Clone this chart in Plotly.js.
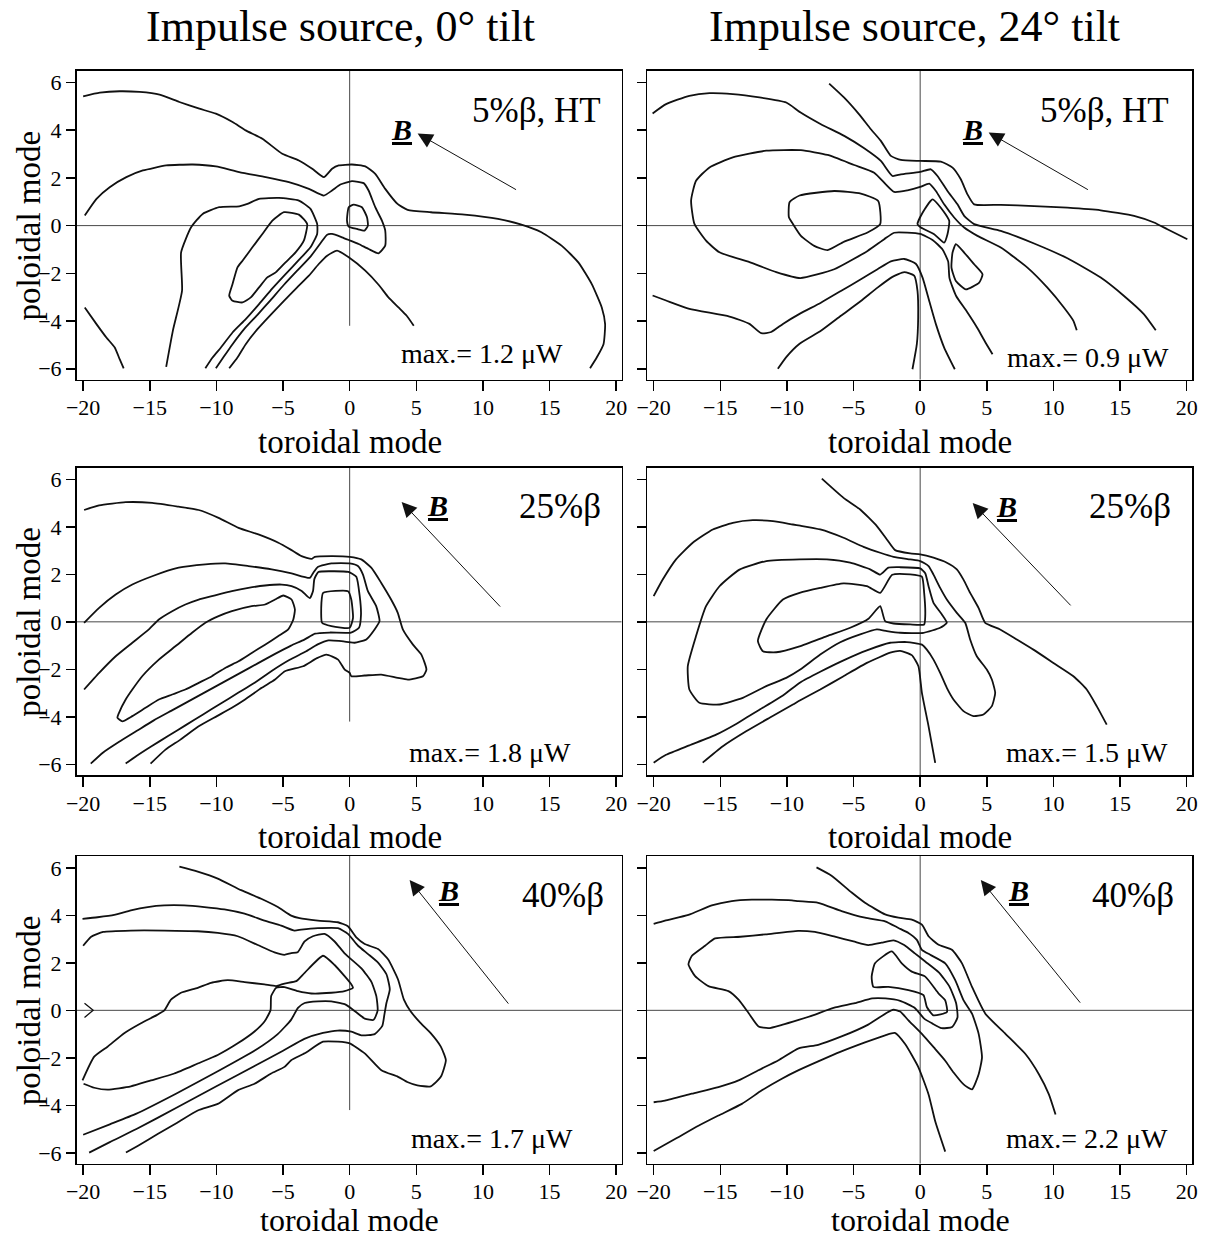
<!DOCTYPE html>
<html>
<head>
<meta charset="utf-8">
<script src="https://cdn.plot.ly/plotly-3.0.1.min.js"></script>
<style>
  html, body { margin: 0; padding: 0; background: #fff; }
  #chart { width: 1207px; height: 1237px; }
</style>
</head>
<body>
<div id="chart"></div>
<script>
// ---- axis ticks and labels ----
const toroidalTicks = [-20, -15, -10, -5, 0, 5, 10, 15, 20];
const poloidalTicks = [-6, -4, -2, 0, 2, 4, 6];
const columnTitles = ['Impulse source, 0° tilt', 'Impulse source, 24° tilt'];
const betaLabels = ['5%β, HT', '5%β, HT', '25%β', '25%β', '40%β', '40%β'];
const maxPower = [1.2, 0.9, 1.8, 1.5, 1.7, 2.2]; // μW, one per panel

// field direction arrow (head, tail) in (toroidal, poloidal) mode units
const fieldArrowHead = [[5.1, 3.86], [5.14, 3.9], [3.9, 5.05], [3.94, 5.0], [4.5, 5.49], [4.55, 5.49]];
const fieldArrowTail = [[12.6, 1.47], [12.7, 1.47], [11.4, 0.58], [11.4, 0.63], [12.0, 0.22], [12.1, 0.26]];

// lower end of the n = 0 guide line in each panel
const guideBottom = [-4.2, -7, -4.2, -7, -4.2, -7];

// small chevron on the m = 0 line, 40% beta, 0 deg tilt
const edgeChevron = [[-19.9, 0.3], [-19.25, 0], [-19.9, -0.3]];

// ---- contour lines: 5% beta HT, 0 deg tilt ----
const c5t0_a = [[-20.0,5.42],[-18.75,5.57],[-17.26,5.63],[-15.77,5.6],[-14.27,5.49],[-12.78,5.18],[-11.28,4.9],[-10.04,4.69],[-8.79,4.34],[-7.8,3.99],[-6.55,3.64],[-5.06,3.01],[-3.81,2.73],[-2.81,2.38],[-1.94,2.03],[-1.32,2.38],[-0.82,2.52],[0.17,2.56],[1.17,2.48],[1.92,2.17],[2.67,1.54],[3.59,0.91],[4.35,0.66],[6.1,0.56],[8.62,0.46],[11.13,0.28],[12.89,0.04],[14.39,-0.28],[15.9,-0.84],[17.16,-1.54],[18.17,-2.45],[18.92,-3.43],[19.17,-4.13],[19.05,-4.97],[18.54,-5.53],[18.04,-5.98]];
const c5t0_b = [[-19.88,0.42],[-19.0,1.12],[-18.01,1.61],[-16.76,2.03],[-15.52,2.31],[-13.77,2.52],[-11.78,2.56],[-10.04,2.48],[-8.29,2.24],[-6.3,2.03],[-4.56,1.82],[-3.06,1.54],[-1.94,1.26],[-1.32,1.47],[-0.7,1.72],[0.17,1.86],[1.05,1.78],[1.42,1.47],[1.92,0.77],[2.42,0.21],[2.67,-0.21],[2.67,-0.84],[2.17,-1.16],[1.42,-0.98],[0.67,-0.77],[0.05,-0.63],[-0.57,-0.49],[-1.32,-0.35],[-1.69,-0.38],[-2.19,-0.74],[-2.94,-1.3],[-3.94,-1.89],[-4.93,-2.48],[-5.93,-3.12],[-6.92,-3.74],[-7.92,-4.34],[-8.79,-4.97],[-9.49,-5.53],[-10.04,-5.98]];
const c5t0_c = [[-9.04,-5.98],[-8.42,-5.53],[-7.8,-4.97],[-6.92,-4.34],[-5.93,-3.74],[-4.93,-3.15],[-3.94,-2.59],[-3.06,-2.1],[-2.32,-1.61],[-1.69,-1.26],[-0.95,-1.05],[-0.07,-1.33],[1.17,-1.89],[2.17,-2.48],[2.91,-3.01],[3.66,-3.43],[4.28,-3.78],[4.81,-4.2]];
const c5t0_d = [[-13.77,-5.92],[-13.27,-4.41],[-12.58,-2.73],[-12.65,-1.12],[-11.9,-0.07],[-11.03,0.49],[-9.79,0.77],[-8.29,0.81],[-7.67,0.91],[-6.8,1.12],[-5.31,1.16],[-3.81,1.05],[-2.94,0.7],[-2.44,0.07],[-2.44,-0.35],[-2.94,-0.91],[-3.81,-1.44],[-4.81,-2.03],[-5.8,-2.63],[-6.8,-3.29],[-7.8,-3.92],[-8.79,-4.48],[-9.66,-5.11],[-10.29,-5.53],[-10.83,-5.98]];
const c5t0_e = [[-4.93,0.56],[-3.81,0.46],[-3.19,0.07],[-3.44,-0.63],[-4.06,-1.12],[-4.81,-1.54],[-5.55,-1.96],[-6.18,-2.17],[-6.8,-2.59],[-7.42,-3.01],[-8.04,-3.22],[-8.79,-3.15],[-9.04,-2.94],[-8.79,-2.45],[-8.42,-1.75],[-8.04,-1.47],[-7.3,-0.91],[-6.55,-0.35],[-5.8,0.21],[-4.93,0.56]];
const c5t0_f = [[-0.07,0.77],[0.3,0.88],[0.92,0.77],[1.3,0.35],[1.37,0.0],[1.12,-0.21],[0.55,-0.14],[-0.07,-0.04],[-0.2,0.21],[-0.07,0.77]];
const c5t0_g = [[-19.88,-3.43],[-19.0,-4.13],[-18.26,-4.69],[-17.63,-5.11],[-17.26,-5.6],[-16.96,-5.98]];

// ---- contour lines: 5% beta HT, 24 deg tilt ----
const c5t24_a = [[-6.83,5.95],[-5.7,5.36],[-4.58,4.66],[-3.7,4.04],[-2.95,3.55],[-2.2,2.92],[-1.45,2.75],[0,2.71],[1.55,2.68],[2.43,2.43],[3.05,1.94],[3.55,1.31],[4.05,0.89],[6.05,0.87],[8.55,0.82],[11.05,0.75],[13.55,0.64],[16.05,0.41],[17.55,0.13],[18.55,-0.15],[20.05,-0.57]];
const c5t24_b = [[-20.08,4.7],[-19.07,5.09],[-17.32,5.44],[-15.81,5.55],[-14.06,5.51],[-12.06,5.37],[-10.05,5.16],[-9.0,4.75],[-7.45,4.25],[-5.7,3.76],[-4.2,3.24],[-2.95,2.71],[-2.08,2.08],[-1.45,2.15],[0,2.25],[0.8,2.36],[1.3,2.08],[2.05,1.45],[2.8,0.89],[3.3,0.41],[4.05,0.06],[6.05,-0.22],[8.55,-0.75],[11.05,-1.37],[13.55,-2.18],[15.3,-2.95],[16.8,-3.72],[17.68,-4.39]];
const c5t24_c = [[11.75,-4.39],[11.5,-3.99],[10.8,-3.44],[9.55,-2.6],[8.05,-1.76],[6.05,-0.92],[4.3,-0.43],[3.3,-0.08],[2.55,0.34],[1.8,0.89],[1.18,1.45],[0.68,1.76],[0,1.62],[-0.95,1.48],[-1.95,1.41],[-2.58,1.73],[-3.45,2.22],[-4.95,2.54],[-6.95,2.96],[-8.95,3.16],[-11.55,3.14],[-14.06,2.86],[-15.81,2.44],[-16.82,1.88],[-17.19,1.05],[-16.94,0.07],[-16.07,-0.63],[-15.06,-1.12],[-12.81,-1.53],[-10.8,-1.95],[-9.0,-2.2],[-6.45,-1.83],[-3.95,-1.06],[-2.7,-0.57],[-1.95,-0.3],[0,-0.35],[0.93,-0.6],[1.68,-1.0],[2.1,-1.5],[2.2,-2.2],[2.7,-2.95],[3.5,-3.6],[4.3,-4.3],[4.9,-4.9],[5.43,-5.39]];
const c5t24_d = [[-20.08,-2.93],[-19.07,-3.14],[-17.32,-3.49],[-14.31,-3.81],[-12.81,-4.12],[-11.93,-4.51],[-11.18,-4.46],[-10.3,-4.12],[-9.05,-3.7],[-7.45,-3.23],[-5.95,-2.74],[-4.45,-2.25],[-3.2,-1.83],[-2.2,-1.5],[-1.2,-1.4],[-0.33,-1.6],[0.18,-2.18],[0.68,-3.16],[1.18,-4.13],[1.8,-5.11],[2.6,-6.02]];
const c5t24_e = [[-10.68,-6.0],[-10.05,-5.51],[-9.05,-4.95],[-7.45,-4.41],[-5.95,-3.78],[-4.45,-3.16],[-3.2,-2.6],[-2.08,-2.15],[-1.2,-1.95],[-0.45,-2.1],[-0.2,-2.74],[-0.15,-3.85],[-0.25,-4.97],[-0.58,-6.02]];
const c5t24_f = [[-9.8,0.98],[-9.05,1.26],[-6.45,1.45],[-4.45,1.34],[-3.15,1.03],[-3.0,0.06],[-3.95,-0.29],[-5.7,-0.67],[-6.95,-1.03],[-7.95,-0.85],[-8.95,-0.43],[-9.55,0.07],[-9.85,0.35],[-9.8,0.98]];
const c5t24_g = [[-0.2,0.06],[0.18,0.54],[0.93,1.1],[1.55,0.75],[2.18,0.2],[2.05,-0.36],[1.8,-0.71],[1.05,-0.36],[0.05,-0.08],[-0.2,0.06]];
const c5t24_h = [[2.68,-0.78],[3.3,-1.13],[4.05,-1.62],[4.68,-2.04],[4.43,-2.39],[3.43,-2.67],[2.68,-2.32],[2.35,-1.76],[2.43,-1.13],[2.68,-0.78]];

// ---- contour lines: 25% beta, 0 deg tilt ----
const c25t0_a = [[-19.93,4.71],[-18.8,4.9],[-16.81,5.04],[-14.82,5.01],[-12.83,4.85],[-11.33,4.71],[-9.84,4.38],[-8.34,3.96],[-6.85,3.68],[-5.35,3.33],[-4.36,3.02],[-3.61,2.77],[-2.86,2.65],[-2.62,2.74],[-1.37,2.77],[0,2.74],[0.87,2.63],[1.62,2.28],[2.37,1.64],[3.11,0.94],[3.61,0.38],[3.99,-0.32],[4.75,-0.96],[5.38,-1.38],[5.76,-2.01],[5.5,-2.29],[4.37,-2.43],[3.61,-2.36],[2.37,-2.22],[1.12,-2.26],[0.12,-2.29],[0,-2.15],[-0.37,-2.01],[-0.87,-1.59],[-1.74,-1.38],[-2.49,-1.54],[-3.49,-1.87],[-4.86,-2.08],[-5.6,-2.43],[-6.6,-2.78],[-7.85,-3.27],[-8.84,-3.62],[-9.96,-3.97],[-11.33,-4.4],[-12.7,-4.96],[-13.82,-5.38],[-14.94,-5.97]];
const c25t0_b = [[-19.93,-0.04],[-18.8,0.59],[-17.56,1.15],[-16.31,1.57],[-14.82,1.92],[-12.83,2.28],[-10.83,2.42],[-9.34,2.46],[-7.6,2.35],[-5.85,2.21],[-4.36,2.04],[-2.99,1.85],[-2.74,2.06],[-2.37,2.32],[-1.37,2.46],[0,2.46],[0.62,2.35],[1.0,1.99],[1.37,1.29],[1.99,0.66],[2.24,0.03],[1.87,-0.32],[1.25,-0.74],[0.37,-0.88],[0,-0.86],[-0.8,-0.8],[-1.6,-0.78],[-2.4,-0.95],[-3.3,-1.25],[-4.5,-1.6],[-5.8,-2.05],[-7.1,-2.55],[-8.4,-3.0],[-9.7,-3.45],[-11.0,-3.9],[-12.3,-4.35],[-13.6,-4.8],[-14.9,-5.25],[-16.0,-5.65],[-16.81,-5.97]];
const c25t0_c = [[-19.93,-2.85],[-18.8,-2.15],[-17.56,-1.45],[-16.31,-0.88],[-15.07,-0.32],[-14.32,0.1],[-13.32,0.45],[-12.33,0.73],[-11.33,0.94],[-10.34,1.08],[-8.84,1.29],[-7.6,1.43],[-6.35,1.53],[-5.1,1.57],[-4.36,1.5],[-3.6,1.3],[-3.0,1.0],[-2.75,1.3],[-2.65,1.8],[-2.35,2.1],[-1.4,2.13],[-0.1,2.1],[0.5,1.9],[0.75,1.1],[0.85,0.3],[0.7,-0.25],[0.1,-0.45],[-1.5,-0.45],[-2.6,-0.5],[-3.4,-0.75],[-4.4,-1.0],[-5.6,-1.35],[-6.9,-1.75],[-8.2,-2.15],[-9.5,-2.55],[-10.8,-2.95],[-12.1,-3.35],[-13.4,-3.75],[-14.7,-4.15],[-16.0,-4.6],[-17.3,-5.05],[-18.5,-5.5],[-19.43,-5.97]];
const c25t0_d = [[-17.43,-4.04],[-17.31,-3.83],[-16.81,-3.27],[-16.31,-2.85],[-15.57,-2.29],[-14.32,-1.59],[-13.08,-1.03],[-11.83,-0.46],[-10.83,-0.04],[-9.84,0.24],[-8.84,0.45],[-7.35,0.66],[-6.35,0.73],[-5.6,0.94],[-4.98,1.11],[-4.36,0.94],[-4.11,0.52],[-4.23,0.1],[-4.61,-0.32],[-5.35,-0.6],[-6.35,-0.96],[-7.35,-1.31],[-8.34,-1.66],[-9.34,-1.94],[-10.34,-2.29],[-11.33,-2.57],[-12.33,-2.85],[-13.32,-3.06],[-14.32,-3.27],[-15.32,-3.62],[-16.31,-3.97],[-17.06,-4.19],[-17.43,-4.04]];
const c25t0_e = [[-1.99,1.22],[-0.12,1.29],[0.12,0.94],[0.25,0.17],[0,-0.25],[-1.37,-0.18],[-2.07,-0.04],[-2.12,0.8],[-1.99,1.22]];

// ---- contour lines: 25% beta, 24 deg tilt ----
const c25t24_a = [[-7.38,6.03],[-5.75,5.22],[-4.5,4.73],[-3.25,4.03],[-2.5,3.47],[-1.88,3.02],[-0.75,2.88],[0,2.84],[1.0,2.7],[2.0,2.49],[2.75,2.21],[3.25,1.78],[3.75,1.22],[4.38,0.59],[4.88,-0.04],[6.0,-0.32],[7.25,-0.74],[8.5,-1.17],[10.0,-1.73],[11.5,-2.29],[12.5,-2.85],[13.25,-3.55],[14.0,-4.33]];
const c25t24_b = [[-20.0,1.08],[-19.32,1.78],[-18.32,2.63],[-17.07,3.33],[-15.56,3.89],[-14.06,4.17],[-12.56,4.28],[-11.05,4.24],[-9.55,4.1],[-9.0,4.05],[-7.5,3.89],[-5.75,3.54],[-4.25,3.16],[-3.0,2.91],[-2.0,2.74],[-0.75,2.63],[0,2.56],[0.63,2.35],[1.0,1.99],[1.5,1.43],[2.0,0.94],[2.75,0.38],[3.38,-0.04],[3.75,-0.74],[4.25,-1.45],[5.0,-2.01],[5.38,-2.43],[5.63,-2.99],[5.38,-3.55],[4.75,-3.9],[4.0,-3.97],[3.25,-3.76],[2.5,-3.27],[2.0,-2.78],[1.5,-2.15],[1.0,-1.59],[0.5,-1.17],[0.13,-0.96],[-1.0,-0.85],[-2.25,-0.88],[-4.0,-1.2],[-5.75,-1.62],[-7.5,-2.1],[-9.0,-2.55],[-10.3,-3.1],[-12.06,-3.7],[-13.81,-4.3],[-15.31,-4.75],[-17.32,-5.2],[-19.07,-5.6],[-20.0,-5.93]];
const c25t24_c = [[-9.05,2.63],[-11.55,2.56],[-13.56,2.2],[-15.06,1.5],[-16.07,0.66],[-16.82,-0.6],[-17.44,-1.87],[-17.32,-2.85],[-16.57,-3.41],[-15.06,-3.48],[-13.31,-3.2],[-11.55,-2.71],[-10.05,-2.36],[-9.0,-2.01],[-7.5,-1.38],[-6.0,-0.86],[-4.5,-0.53],[-3.25,-0.32],[-2.5,-0.39],[-1.5,-0.46],[0.25,-0.46],[1.5,-0.25],[2.0,-0.04],[1.63,0.31],[1.0,0.8],[0.63,1.5],[0.38,2.05],[0,2.25],[-1.5,2.3],[-2.38,2.28],[-3.0,1.99],[-3.75,2.21],[-5.25,2.49],[-7.0,2.63],[-9.05,2.63]];
const c25t24_d = [[-9.05,1.22],[-10.3,0.94],[-11.55,0.1],[-12.18,-0.81],[-11.8,-1.24],[-10.8,-1.28],[-9.05,-1.03],[-7.0,-0.6],[-5.25,-0.25],[-3.88,0.13],[-3.0,0.66],[-2.63,0.03],[-2.0,-0.07],[-0.75,-0.11],[0.3,-0.11],[0.38,0.24],[0.3,1.22],[0.13,1.9],[-0.75,2.0],[-2.1,1.98],[-3.0,1.22],[-4.0,1.5],[-5.75,1.62],[-7.5,1.43],[-9.05,1.22]];
const c25t24_e = [[-16.32,-5.93],[-14.81,-5.24],[-13.06,-4.61],[-11.3,-4.04],[-9.55,-3.48],[-9.0,-3.3],[-7.5,-2.85],[-5.75,-2.29],[-4.0,-1.73],[-2.25,-1.3],[-1.5,-1.22],[-0.63,-1.4],[-0.13,-1.87],[0.13,-2.99],[0.63,-4.4],[1.13,-5.94]];

// ---- contour lines: 40% beta, 0 deg tilt ----
const c40t0_a = [[-12.78,6.05],[-11.4,5.84],[-9.9,5.55],[-8.15,5.06],[-6.64,4.7],[-5.39,4.35],[-4.39,3.99],[-3.76,3.88],[-2.38,3.78],[-0.88,3.71],[-0.13,3.54],[0.5,3.07],[1.13,2.79],[2.13,2.58],[2.88,2.15],[3.63,1.3],[4.07,0.45],[4.57,-0.04],[5.33,-0.54],[6.08,-0.96],[6.84,-1.53],[7.22,-2.1],[6.84,-2.8],[6.08,-3.2],[5.08,-3.16],[4.32,-3.02],[3.63,-2.8],[2.38,-2.52],[1.13,-1.81],[0,-1.39],[-0.88,-1.32],[-2.0,-1.32],[-3.38,-1.81],[-4.39,-2.1],[-4.89,-2.38],[-5.89,-2.66],[-7.14,-3.09],[-8.4,-3.37],[-9.9,-3.94],[-11.4,-4.22],[-12.91,-4.72],[-14.41,-5.21],[-15.91,-5.71],[-16.79,-5.99]];
const c40t0_b = [[-20.05,3.85],[-18.92,3.92],[-17.67,4.02],[-16.42,4.21],[-15.16,4.35],[-13.91,4.42],[-12.41,4.42],[-10.9,4.35],[-9.4,4.25],[-7.89,4.07],[-6.39,3.78],[-5.14,3.57],[-4.14,3.36],[-3.63,3.4],[-2.38,3.46],[-0.88,3.46],[-0.13,3.22],[0.63,2.72],[1.38,2.37],[2.13,2.01],[2.76,1.52],[3.01,0.88],[2.76,0.31],[2.6,-0.2],[2.45,-0.65],[1.88,-1.0],[0.88,-1.05],[0.13,-0.9],[-0.9,-0.85],[-2.0,-0.95],[-3.4,-1.2],[-5.0,-1.7],[-7.0,-2.3],[-10.0,-3.2],[-13.0,-4.1],[-16.0,-5.0],[-18.0,-5.55],[-19.55,-5.99]];
const c40t0_c = [[-20.0,2.72],[-19.4,3.1],[-18.5,3.3],[-16.42,3.36],[-13.91,3.36],[-11.4,3.33],[-9.9,3.26],[-8.4,3.12],[-6.9,2.75],[-5.64,2.44],[-4.9,2.34],[-4.39,2.41],[-3.9,2.45],[-3.38,2.9],[-2.76,3.12],[-1.88,3.22],[-1.13,2.9],[-0.38,2.4],[0.88,1.77],[1.63,1.2],[2.0,0.6],[2.1,0.0],[1.8,-0.4],[1.13,-0.35],[0.2,0.05],[-0.38,0.26],[-1.38,0.38],[-2.38,0.38],[-3.38,0.31],[-3.88,0.1],[-4.4,-0.4],[-5.4,-1.0],[-7.0,-1.65],[-10.0,-2.6],[-13.0,-3.5],[-16.0,-4.35],[-18.0,-4.8],[-20.0,-5.24]];
const c40t0_d = [[-20.05,-2.95],[-19.17,-1.95],[-18.17,-1.53],[-16.92,-0.96],[-15.66,-0.54],[-14.41,-0.18],[-13.91,0.0],[-13.41,0.45],[-12.66,0.74],[-11.4,0.95],[-10.4,1.16],[-9.15,1.27],[-7.89,1.19],[-6.39,1.09],[-5.51,1.02],[-4.89,1.13],[-4.01,1.23],[-3.38,1.58],[-2.0,2.3],[-1.13,1.91],[-0.38,1.44],[0.12,1.1],[0.25,0.95],[-0.38,0.81],[-1.38,0.74],[-2.88,0.71],[-3.88,0.81],[-4.89,0.98],[-5.51,0.95],[-5.89,0.6],[-5.94,0.0],[-6.39,-0.47],[-7.14,-0.89],[-8.4,-1.39],[-9.9,-1.88],[-11.4,-2.24],[-13.16,-2.66],[-14.91,-2.95],[-16.42,-3.2],[-18.17,-3.34],[-19.17,-3.26],[-19.97,-3.09]];

// ---- contour lines: 40% beta, 24 deg tilt ----
const c40t24_a = [[-7.78,6.02],[-6.65,5.67],[-5.14,4.96],[-4.14,4.53],[-2.63,4.04],[-1.63,3.9],[-0.63,3.82],[0.13,3.61],[0.63,3.12],[1.38,2.76],[2.38,2.55],[3.14,1.98],[3.89,0.99],[4.89,-0.14],[6.4,-0.99],[7.9,-1.84],[8.91,-2.69],[9.66,-3.54],[10.16,-4.39]];
const c40t24_b = [[-20.0,3.64],[-19.15,3.78],[-17.39,4.02],[-15.64,4.42],[-14.14,4.6],[-12.63,4.66],[-11.13,4.66],[-9.62,4.63],[-9.16,4.6],[-7.65,4.53],[-5.9,4.18],[-4.14,3.9],[-2.63,3.75],[-1.63,3.47],[-0.88,3.26],[-0.25,2.97],[0.13,2.55],[0.75,2.34],[1.88,1.98],[2.63,1.27],[3.26,0.42],[3.89,-0.14],[4.39,-0.99],[4.64,-1.98],[4.39,-2.69],[3.89,-3.33],[3.26,-3.12],[2.51,-2.62],[1.88,-2.12],[1.13,-1.63],[0.13,-0.99],[-0.88,-0.42],[-1.5,-0.05],[-2.0,0.03],[-2.5,-0.1],[-3.9,-0.6],[-5.9,-1.1],[-7.65,-1.45],[-9.12,-1.6],[-10.63,-2.1],[-12.13,-2.52],[-13.63,-2.95],[-15.14,-3.23],[-17.14,-3.51],[-19.15,-3.8],[-20.0,-3.87]];
const c40t24_c = [[-9.16,3.35],[-7.9,3.3],[-6.4,3.1],[-5.0,2.9],[-3.9,2.75],[-2.9,2.85],[-2.0,2.95],[-1.2,2.75],[-0.4,2.4],[0.4,2.05],[1.4,1.6],[2.2,1.0],[2.7,0.3],[2.8,-0.3],[2.4,-0.7],[1.6,-0.75],[0.9,-0.55],[0.3,-0.35],[-0.4,0.1],[-1.5,0.4],[-2.6,0.5],[-3.6,0.5],[-4.9,0.3],[-6.5,0.1],[-8.0,-0.2],[-9.12,-0.4],[-10.38,-0.61],[-11.38,-0.75],[-12.13,-0.68],[-12.88,-0.11],[-13.63,0.45],[-14.39,0.81],[-15.89,1.02],[-16.89,1.44],[-17.39,1.94],[-17.14,2.29],[-16.14,2.72],[-15.39,3.03],[-13.5,3.1],[-11.6,3.2],[-9.16,3.35]];
const c40t24_d = [[-3.39,1.98],[-2.13,2.48],[-1.38,1.98],[-0.63,1.63],[0.38,1.42],[1.38,0.71],[1.88,0.42],[2.01,-0.07],[1.0,-0.21],[0.5,0.14],[0.25,0.64],[-0.88,0.85],[-2.38,0.99],[-3.51,0.99],[-3.64,1.42],[-3.39,1.98]];
const c40t24_e = [[-20.0,-5.92],[-18.4,-5.42],[-16.64,-4.86],[-15.14,-4.43],[-13.38,-3.94],[-11.88,-3.37],[-10.38,-2.88],[-9.12,-2.52],[-7.65,-2.15],[-6.0,-1.75],[-4.14,-1.35],[-2.63,-1.05],[-1.9,-0.95],[-1.13,-1.42],[-0.13,-2.4],[0.63,-3.54],[1.13,-4.67],[1.88,-5.95]];

const panelContours = [
  [c5t0_a, c5t0_b, c5t0_c, c5t0_d, c5t0_e, c5t0_f, c5t0_g],
  [c5t24_a, c5t24_b, c5t24_c, c5t24_d, c5t24_e, c5t24_f, c5t24_g, c5t24_h],
  [c25t0_a, c25t0_b, c25t0_c, c25t0_d, c25t0_e],
  [c25t24_a, c25t24_b, c25t24_c, c25t24_d, c25t24_e],
  [c40t0_a, c40t0_b, c40t0_c, c40t0_d],
  [c40t24_a, c40t24_b, c40t24_c, c40t24_d, c40t24_e]
];

// ---- page geometry (pixels) ----
const W = 1207, H = 1237;
const colPx = [[76.5, 621.5], [647, 1192]];
const rowPx = [[70.5, 379.5], [467.5, 775], [856, 1163.5]];
const xRange = [-20.5, 20.4], yRange = [-6.45, 6.5];
const FONT = 'Liberation Serif, Times New Roman, serif';

// label anchor points in pixels
const betaPos = [[603, 110], [1171, 110], [603, 506], [1173, 506], [606, 895], [1176, 895]];
const maxPos = [[482, 353], [1088, 357], [490, 752], [1087, 752], [492, 1138], [1087, 1138]];
const bPos = [[401, 129], [972, 129], [437, 505], [1006, 506], [448, 890], [1018, 890]];
const xTitleY = [442, 837, 1220];
const xTitleSize = [33, 33, 32];
const titlePos = [[340, 27], [914, 27]];

const px = v => v / W;
const py = v => 1 - v / H;

const traces = [];
const layout = {
  width: W, height: H,
  margin: { l: 0, r: 0, t: 0, b: 0 },
  paper_bgcolor: '#fff', plot_bgcolor: '#fff',
  showlegend: false,
  font: { family: FONT, color: '#000' },
  annotations: []
};

for (let i = 0; i < 6; i++) {
  const row = Math.floor(i / 2), col = i % 2;
  const sfx = i === 0 ? '' : String(i + 1);
  const xa = 'x' + sfx, ya = 'y' + sfx;

  layout['xaxis' + sfx] = {
    domain: [px(colPx[col][0]), px(colPx[col][1])],
    range: xRange, anchor: ya,
    tickmode: 'array', tickvals: toroidalTicks,
    ticks: 'outside', ticklen: 10, tickwidth: 1.5, tickcolor: '#000',
    ticklabelstandoff: -2,
    showline: true, mirror: true, linewidth: 1.5, linecolor: '#000',
    showgrid: false, zeroline: false,
    tickfont: { family: FONT, size: 22, color: '#000' }
  };
  layout['yaxis' + sfx] = {
    domain: [py(rowPx[row][1]), py(rowPx[row][0])],
    range: yRange, anchor: xa,
    tickmode: 'array', tickvals: poloidalTicks,
    ticks: 'outside', ticklen: 9, tickwidth: 1.5, tickcolor: '#000',
    showline: true, mirror: true, linewidth: 1.5, linecolor: '#000',
    showgrid: false, zeroline: false,
    showticklabels: col === 0,
    tickfont: { family: FONT, size: 22, color: '#000' }
  };

  // thin guide lines on n = 0 and m = 0
  traces.push({ x: [0, 0], y: [guideBottom[i], 7], xaxis: xa, yaxis: ya, mode: 'lines',
    line: { color: '#333', width: 0.9 }, hoverinfo: 'skip' });
  traces.push({ x: [-21, 21], y: [0, 0], xaxis: xa, yaxis: ya, mode: 'lines',
    line: { color: '#333', width: 0.9 }, hoverinfo: 'skip' });

  // power contours
  panelContours[i].forEach(c => {
    traces.push({
      x: c.map(p => p[0]), y: c.map(p => p[1]), xaxis: xa, yaxis: ya,
      mode: 'lines', line: { color: '#111', width: 1.8, shape: 'spline', smoothing: 0.5 },
      hoverinfo: 'skip'
    });
  });

  // field direction arrow
  layout.annotations.push({
    xref: xa, yref: ya, axref: xa, ayref: ya,
    x: fieldArrowHead[i][0], y: fieldArrowHead[i][1],
    ax: fieldArrowTail[i][0], ay: fieldArrowTail[i][1],
    text: '', showarrow: true, arrowhead: 2, arrowsize: 3, arrowwidth: 1,
    arrowcolor: '#111', standoff: 0, startstandoff: 0
  });
  layout.annotations.push({
    xref: 'paper', yref: 'paper', x: px(bPos[i][0]), y: py(bPos[i][1]),
    xanchor: 'center', yanchor: 'middle', showarrow: false,
    text: '<b><i><u>B</u></i></b>', font: { family: FONT, size: 30, color: '#000' }
  });

  // beta label and peak power
  layout.annotations.push({
    xref: 'paper', yref: 'paper', x: px(betaPos[i][0]), y: py(betaPos[i][1]),
    xanchor: 'right', yanchor: 'middle', showarrow: false,
    text: betaLabels[i], font: { family: FONT, size: 35, color: '#000' }
  });
  layout.annotations.push({
    xref: 'paper', yref: 'paper', x: px(maxPos[i][0]), y: py(maxPos[i][1]),
    xanchor: 'center', yanchor: 'middle', showarrow: false,
    text: 'max.= ' + maxPower[i].toFixed(1) + ' μW', font: { family: FONT, size: 28, color: '#000' }
  });

  // axis titles
  layout.annotations.push({
    xref: xa, yref: 'paper', x: 0, y: py(xTitleY[row]),
    xanchor: 'center', yanchor: 'middle', showarrow: false, borderpad: 0,
    text: 'toroidal mode', font: { family: FONT, size: xTitleSize[row], color: '#000' }
  });
  if (col === 0) {
    layout.annotations.push({
      xref: 'paper', yref: ya, x: px(29), y: 0,
      xanchor: 'center', yanchor: 'middle', showarrow: false, textangle: -90,
      text: 'poloidal mode', font: { family: FONT, size: 33, color: '#000' }
    });
  }
}

// chevron on the m = 0 line (40% beta, 0 deg)
traces.push({ x: edgeChevron.map(p => p[0]), y: edgeChevron.map(p => p[1]), xaxis: 'x5', yaxis: 'y5',
  mode: 'lines', line: { color: '#111', width: 1.3 }, hoverinfo: 'skip' });

// column titles
columnTitles.forEach((t, k) => {
  layout.annotations.push({
    xref: 'paper', yref: 'paper', x: px(titlePos[k][0]), y: py(titlePos[k][1]),
    xanchor: 'center', yanchor: 'middle', showarrow: false,
    text: t, font: { family: FONT, size: 44, color: '#000' }
  });
});

Plotly.newPlot('chart', traces, layout, { staticPlot: true, displayModeBar: false });
</script>
</body>
</html>
